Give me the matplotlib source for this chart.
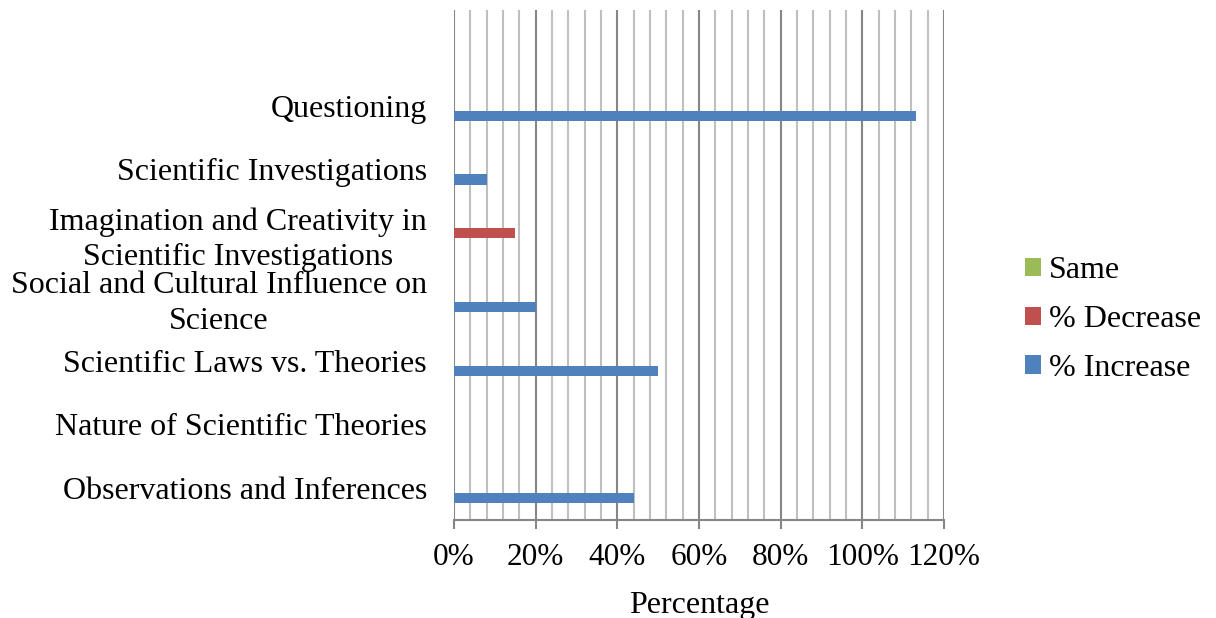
import matplotlib
matplotlib.use("Agg")
import matplotlib.pyplot as plt
import numpy as np
from matplotlib.ticker import MultipleLocator, FuncFormatter

categories = [
    "Observations and Inferences",
    "Nature of Scientific Theories",
    "Scientific Laws vs. Theories",
    "Social and Cultural Influence on\nScience",
    "Imagination and Creativity in\nScientific Investigations",
    "Scientific Investigations",
    "Questioning",
]
pct_increase = [44, 0, 50, 20, 0, 8, 113]
pct_decrease = [0, 0, 0, 0, 15, 0, 0]
same = [0, 0, 0, 0, 0, 0, 0]

series_names = ["% Increase", "% Decrease", "Same"]
series_colors = ["#4F81BD", "#C0504D", "#9BBB59"]

plt.rcParams["font.family"] = ["Liberation Serif", "DejaVu Serif"]
FS = 23

fig = plt.figure(figsize=(12.16, 6.18), dpi=100)
ax = fig.add_axes([0.3734, 0.1586, 0.4030, 0.8252])

y = np.arange(len(categories))
h = 0.16
for i, (vals, name, col) in enumerate(zip([pct_increase, pct_decrease, same],
                                          series_names, series_colors)):
    ax.barh(y + (1 - i) * -h, vals, height=h, color=col, label=name, zorder=3)

ax.set_xlim(0, 120)
ax.set_ylim(-0.5, len(categories) + 0.5)

ax.xaxis.set_major_locator(MultipleLocator(20))
ax.xaxis.set_minor_locator(MultipleLocator(4))
ax.xaxis.set_major_formatter(FuncFormatter(lambda v, p: f"{v:.0f}%"))
ax.grid(which="major", axis="x", color="#868686", linewidth=1.5, zorder=0)
ax.grid(which="minor", axis="x", color="#BFBFBF", linewidth=1.5, zorder=0)

ax.set_yticks(y)
ax.set_yticklabels(categories, fontsize=FS, ha="right", multialignment="center",
                   linespacing=1.3)
ax.tick_params(axis="y", length=0, pad=19.5)
ax.tick_params(axis="x", which="major", length=6.5, width=1.5, color="#868686",
               labelsize=FS - 0.5, pad=10)
ax.tick_params(axis="x", which="minor", length=0)

for s in ["top", "right", "left"]:
    ax.spines[s].set_visible(False)
ax.spines["bottom"].set_color("#868686")
ax.spines["bottom"].set_linewidth(1.5)

ax.set_xlabel("Percentage", fontsize=FS, labelpad=13.5)

handles, labels = ax.get_legend_handles_labels()
fig.legend(handles[::-1], labels[::-1], loc="center left",
           bbox_to_anchor=(0.819, 0.483), frameon=False, fontsize=FS,
           handlelength=0.5, handleheight=0.5, handletextpad=0.25,
           labelspacing=0.62)

fig.savefig("out.png", dpi=100)
